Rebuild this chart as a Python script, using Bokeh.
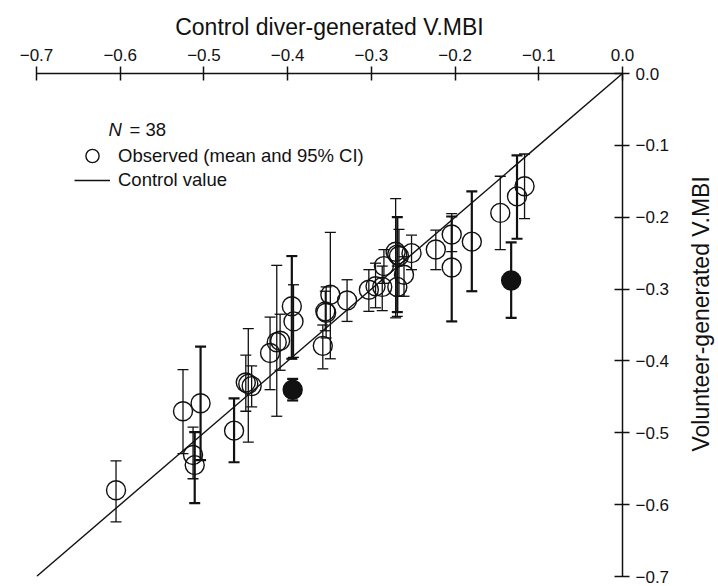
from math import pi
from bokeh.plotting import figure
from bokeh.layouts import row
from bokeh.models import (Range1d, LinearAxis, FixedTicker, Legend, LegendItem,
                          Label, ColumnDataSource)
from bokeh.embed import file_html
from bokeh.resources import INLINE

# ---- data ----
# open circles: observed mean and 95% CI
obs_x = [-0.605, -0.525, -0.504, -0.513, -0.511, -0.464, -0.450, -0.447, -0.443,
         -0.421, -0.413, -0.409, -0.395, -0.393, -0.358, -0.355, -0.354, -0.349,
         -0.329, -0.303, -0.295, -0.287, -0.285, -0.271, -0.269, -0.267, -0.269,
         -0.261, -0.252, -0.223, -0.204, -0.204, -0.180, -0.146, -0.126, -0.117]
obs_y = [-0.580, -0.470, -0.459, -0.531, -0.545, -0.497, -0.430, -0.432, -0.435,
         -0.389, -0.374, -0.372, -0.324, -0.345, -0.379, -0.331, -0.333, -0.308,
         -0.316, -0.301, -0.296, -0.297, -0.268, -0.248, -0.252, -0.254, -0.297,
         -0.280, -0.250, -0.245, -0.224, -0.270, -0.234, -0.194, -0.171, -0.157]
obs_lo = [-0.624, -0.529, -0.538, -0.564, -0.598, -0.541, -0.470, -0.513, -0.464,
          -0.440, -0.477, -0.413, -0.397, -0.395, -0.411, -0.358, -0.368, -0.397,
          -0.345, -0.331, -0.326, -0.330, -0.292, -0.340, -0.332, -0.310, -0.338,
          -0.310, -0.273, -0.273, -0.248, -0.345, -0.303, -0.245, -0.230, -0.202]
obs_hi = [-0.539, -0.412, -0.380, -0.492, -0.499, -0.452, -0.392, -0.355, -0.407,
          -0.339, -0.267, -0.335, -0.254, -0.294, -0.350, -0.303, -0.297, -0.221,
          -0.287, -0.273, -0.264, -0.268, -0.245, -0.174, -0.200, -0.217, -0.268,
          -0.255, -0.225, -0.218, -0.195, -0.199, -0.164, -0.143, -0.114, -0.112]
# heavier error bars in the reference (indices into the observed arrays)
obs_heavy = [2, 4, 5, 12, 24, 31, 32, 34]

# filled circles
out_x = [-0.394, -0.133]
out_y = [-0.440, -0.288]
out_lo = [-0.455, -0.340]
out_hi = [-0.425, -0.235]

# control value line
ctrl_x = [-0.7, 0.0]
ctrl_y = [-0.7, 0.0]

tick_vals = [-0.7, -0.6, -0.5, -0.4, -0.3, -0.2, -0.1, 0.0]
tick_text = ["\u22120.7", "\u22120.6", "\u22120.5", "\u22120.4", "\u22120.3",
             "\u22120.2", "\u22120.1", "0.0"]

x_title = "Control diver-generated V.MBI"
y_title = "Volunteer-generated V.MBI"
n_text = "= 38"

FONT = "Liberation Sans"
INK = "#111111"

p = figure(width=684, height=586, x_range=Range1d(-0.7, 0.0), y_range=Range1d(-0.7, 0.0),
           output_backend="svg", toolbar_location=None,
           x_axis_location=None, y_axis_location=None,
           min_border_left=36, min_border_right=62, min_border_top=73, min_border_bottom=10)
p.outline_line_color = None
p.grid.visible = False
p.background_fill_color = "white"

labels = dict(zip(tick_vals, tick_text))

xa = LinearAxis(ticker=FixedTicker(ticks=tick_vals), major_label_overrides=labels,
                axis_label=x_title)
xa.minor_tick_line_color = None
xa.major_tick_in = 7
xa.major_tick_out = 7
xa.major_label_standoff = 6
xa.axis_label_standoff = 6
xa.axis_line_width = 1.5
xa.major_tick_line_width = 1.5
xa.axis_line_color = INK
xa.major_tick_line_color = INK
xa.major_label_text_font = FONT
xa.major_label_text_font_size = "17px"
xa.major_label_text_color = INK
xa.axis_label_text_font = FONT
xa.axis_label_text_font_size = "23px"
xa.axis_label_text_font_style = "normal"
xa.axis_label_text_color = INK
p.add_layout(xa, "above")

ya = LinearAxis(ticker=FixedTicker(ticks=tick_vals), major_label_overrides=labels)
ya.minor_tick_line_color = None
ya.major_tick_in = 8
ya.major_tick_out = 7
ya.major_label_standoff = 6
ya.axis_line_width = 1.5
ya.major_tick_line_width = 1.5
ya.axis_line_color = INK
ya.major_tick_line_color = INK
ya.major_label_text_font = FONT
ya.major_label_text_font_size = "17px"
ya.major_label_text_color = INK
p.add_layout(ya, "right")

# control line
ctrl = p.line(ctrl_x, ctrl_y, line_color=INK, line_width=1.4)

# error bars
thin_idx = [i for i in range(len(obs_x)) if i not in obs_heavy]
def bars(xs, lo, hi, w):
    src = ColumnDataSource(dict(x=xs, lo=lo, hi=hi))
    p.segment(x0="x", y0="lo", x1="x", y1="hi", source=src, line_color=INK, line_width=w)
    p.scatter(x="x", y="lo", source=src, marker="dash", size=11, line_color=INK, line_width=w)
    p.scatter(x="x", y="hi", source=src, marker="dash", size=11, line_color=INK, line_width=w)

bars([obs_x[i] for i in thin_idx], [obs_lo[i] for i in thin_idx], [obs_hi[i] for i in thin_idx], 1.3)
bars([obs_x[i] for i in obs_heavy], [obs_lo[i] for i in obs_heavy], [obs_hi[i] for i in obs_heavy], 2.2)
bars(out_x, out_lo, out_hi, 2.2)

obs = p.scatter(obs_x, obs_y, marker="circle", size=19, fill_alpha=0,
                line_color=INK, line_width=1.4)
p.scatter(out_x, out_y, marker="circle", size=19, fill_color=INK, line_color=INK, line_width=1.4)

leg_style = dict(glyph_width=36, label_height=20, label_standoff=8, padding=0, margin=0,
                 border_line_color=None, background_fill_alpha=0,
                 label_text_font=FONT, label_text_font_size="18.5px", label_text_color=INK)
leg1 = Legend(items=[LegendItem(label="Observed (mean and 95% CI)", renderers=[obs])],
              location=(38, 404), glyph_height=33, **leg_style)
leg2 = Legend(items=[LegendItem(label="Control value", renderers=[ctrl])],
              location=(38, 385), glyph_height=20, **leg_style)
p.add_layout(leg1, "center")
p.add_layout(leg2, "center")

p.add_layout(Label(x=-0.7, y=0.0, x_offset=72, y_offset=-56, text="N",
                   text_font=FONT, text_font_size="18.5px", text_font_style="italic",
                   text_color=INK, text_baseline="middle"))
p.add_layout(Label(x=-0.7, y=0.0, x_offset=93, y_offset=-56, text=n_text,
                   text_font=FONT, text_font_size="18.5px",
                   text_color=INK, text_baseline="middle"))

# narrow side panel carrying the vertical title (reads bottom to top)
side = figure(width=34, height=586, x_range=Range1d(0, 34), y_range=Range1d(0, 586),
              output_backend="svg", toolbar_location=None,
              x_axis_location=None, y_axis_location=None, min_border=0)
side.outline_line_color = None
side.grid.visible = False
side.add_layout(Label(x=16, y=306, text=y_title, angle=pi / 2, angle_units="rad",
                      text_font=FONT, text_font_size="23px", text_color=INK,
                      text_align="center", text_baseline="middle"))

layout = row(p, side, spacing=0)
open("out.html", "w").write(file_html(layout, INLINE))
